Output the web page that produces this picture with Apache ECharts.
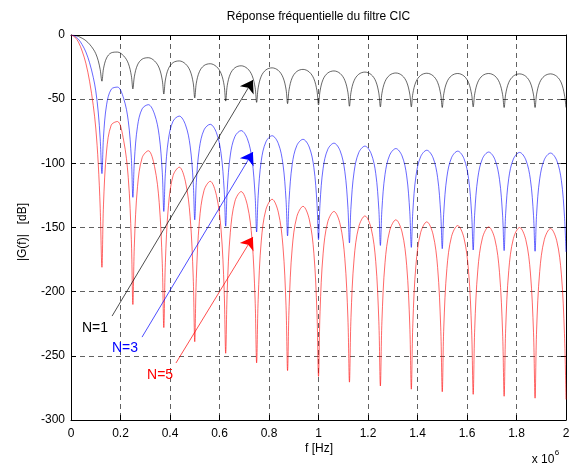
<!DOCTYPE html>
<html>
<head>
<meta charset="utf-8">
<script src="https://cdn.jsdelivr.net/npm/echarts@6/dist/echarts.min.js"></script>
<style>
html,body{margin:0;padding:0;background:#fff;}
#chart{width:575px;height:466px;}
</style>
</head>
<body>
<div id="chart"></div>
<script>
// ---- Data (frequency in units of 10^6 Hz, gain in dB) ----
const titleText = 'Réponse fréquentielle du filtre CIC';
const xTicks = [0, 0.2, 0.4, 0.6, 0.8, 1, 1.2, 1.4, 1.6, 1.8, 2];
const yTicks = [0, -50, -100, -150, -200, -250, -300];

// sample frequencies
const mainLobeFreq = [0, 0.015, 0.03, 0.045, 0.06, 0.075, 0.09, 0.1, 0.11, 0.118];
const nullFreq = [0.125, 0.25, 0.375, 0.5, 0.625, 0.75, 0.875, 1.0, 1.125, 1.25, 1.375, 1.5, 1.625, 1.75, 1.875];
const lobeOffsets = [0, 0.00625, 0.01875, 0.0375, 0.0625, 0.0875, 0.10625, 0.11875];
const endFreq = [2.0];

const gainN1 = [
  0, -0.3, -1.1, -2.5, -4.4, -7.2, -11, -14.5, -20, -27,
  -36, -26.3, -17.9, -13.9, -13.3, -16.2, -22.0, -31.7,
  -42, -32.1, -23.3, -18.8, -17.7, -20.2, -25.7, -35.2,
  -46, -35.1, -26.2, -21.5, -20.2, -22.5, -27.9, -37.3,
  -49, -37.6, -28.6, -23.8, -22.4, -24.6, -29.9, -39.3,
  -51.5, -39.4, -30.3, -25.5, -24.0, -26.1, -31.4, -40.8,
  -52.5, -41.2, -32.1, -27.2, -25.6, -27.6, -32.9, -42.2,
  -53.5, -42.4, -33.3, -28.4, -26.8, -28.8, -34.1, -43.4,
  -54.5, -43.6, -34.5, -29.6, -28.0, -30.0, -35.3, -44.6,
  -55.5, -44.7, -35.6, -30.6, -28.9, -30.8, -36.0, -45.3,
  -56, -45.4, -36.3, -31.3, -29.6, -31.5, -36.7, -46.0,
  -56, -45.6, -36.5, -31.5, -29.8, -31.7, -36.9, -46.2,
  -56.5, -45.8, -36.7, -31.7, -30.0, -31.9, -37.1, -46.4,
  -56, -45.8, -36.7, -31.7, -30.0, -31.9, -37.1, -46.4,
  -56.5, -46.1, -37.0, -32.0, -30.3, -32.2, -37.4, -46.7,
  -56.5, -46.1, -37.0, -32.0, -30.3, -32.2, -37.4, -46.7,
  -56.5
];
const gainN3 = [
  0, -0.9, -3.3, -7.5, -13.2, -21.6, -33, -43.5, -60, -81,
  -108, -79.6, -54.4, -42.3, -40.6, -49.3, -66.8, -95.7,
  -126.5, -97.4, -71.1, -57.5, -54.3, -61.7, -78.4, -106.9,
  -137.5, -107.9, -81.2, -67.1, -63.2, -70.0, -86.4, -114.6,
  -144, -115.1, -88.3, -73.9, -69.6, -76.1, -92.2, -120.4,
  -149, -120.6, -93.5, -79.0, -74.5, -80.8, -96.8, -124.8,
  -153.5, -125.3, -98.0, -83.3, -78.5, -84.5, -100.4, -128.3,
  -156.5, -128.1, -100.8, -86.1, -81.3, -87.3, -103.2, -131.1,
  -159.5, -131.1, -103.8, -89.1, -84.3, -90.3, -106.2, -134.1,
  -162, -134.0, -106.7, -91.7, -86.6, -92.3, -107.9, -135.8,
  -164, -135.9, -108.6, -93.6, -88.5, -94.2, -109.8, -137.7,
  -165.5, -137.2, -109.9, -94.9, -89.8, -95.5, -111.1, -139.0,
  -166.5, -137.9, -110.6, -95.6, -90.5, -96.2, -111.8, -139.7,
  -167.5, -138.6, -111.3, -96.3, -91.2, -96.9, -112.5, -140.4,
  -168, -138.9, -111.6, -96.6, -91.5, -97.2, -112.8, -140.7,
  -168.5, -139.4, -112.1, -97.1, -92.0, -97.7, -113.3, -141.2,
  -169
];
const gainN5 = [
  0, -1.5, -5.5, -12.5, -22, -36, -55, -72.5, -100, -135,
  -181, -132.4, -90.4, -70.2, -67.4, -81.9, -111.0, -159.3,
  -210, -162.1, -118.1, -95.6, -90.2, -102.5, -130.4, -177.9,
  -228, -177.5, -133.0, -109.5, -103, -114.4, -141.6, -188.7,
  -239, -189.9, -145.1, -121.1, -114, -124.9, -151.7, -198.6,
  -248, -198.8, -153.7, -129.4, -122, -132.6, -159.1, -205.8,
  -255.5, -206.0, -160.5, -136.0, -128, -138.0, -164.5, -211.0,
  -261.5, -211.5, -166.0, -141.5, -133.5, -143.5, -170.0, -216.5,
  -266, -215.5, -170.0, -145.5, -137.5, -147.5, -174.0, -220.5,
  -270.5, -220.0, -174.5, -149.5, -141, -150.5, -176.5, -223.0,
  -273.5, -223.0, -177.5, -152.5, -144, -153.5, -179.5, -226.0,
  -276, -224.6, -179.1, -154.1, -145.6, -155.1, -181.1, -227.6,
  -278, -227.5, -182.0, -157.0, -148.5, -158.0, -184.0, -230.5,
  -280, -228.5, -183.0, -158.0, -149.5, -159.0, -185.0, -231.5,
  -281.5, -229.0, -183.5, -158.5, -150, -159.5, -185.5, -232.0,
  -283, -229.8, -184.3, -159.3, -150.8, -160.3, -186.3, -232.8,
  -284
];

// annotations (data units)
const seriesNames = ['N=1', 'N=3', 'N=5'];
const seriesColors = ['#000000', '#0000ff', '#ff0000'];
const labelPos = [[0.097, -228.5], [0.218, -244], [0.36, -265]];
const arrowStart = [[0.166, -219], [0.287, -235.4], [0.424, -255.6]];
const arrowTip = [[0.735, -35.1], [0.735, -91.2], [0.735, -157.4]];

// ---- Build ----
const freq = mainLobeFreq
  .concat(nullFreq.flatMap(n => lobeOffsets.map(o => +(n + o).toFixed(5))))
  .concat(endFreq);
const gains = [gainN1, gainN3, gainN5];

const FONT = '"Liberation Sans", Arial, Helvetica, sans-serif';
const chart = echarts.init(document.getElementById('chart'), null, {renderer: 'canvas'});

const fmtX = v => String(Math.round(v * 10) / 10);
const gridLine = {show: true, lineStyle: {color: '#3a3a3a', type: [5, 4], width: 0.8}};
const axLine = {show: true, onZero: false, lineStyle: {color: '#000', width: 1}};
const tick = {show: true, inside: true, length: 5, lineStyle: {color: '#000', width: 1}};

const series = gains.map((g, i) => ({
  name: seriesNames[i],
  type: 'line',
  data: freq.map((f, j) => [f, g[j]]),
  showSymbol: false,
  symbol: 'none',
  smooth: 0.35,
  lineStyle: {color: seriesColors[i], width: 0.6},
  itemStyle: {color: seriesColors[i]},
  clip: true,
  silent: true,
  z: 2 + i
}));

// arrows (line + head)
gains.forEach((g, i) => {
  series.push({
    type: 'lines',
    coordinateSystem: 'cartesian2d',
    silent: true,
    z: 10,
    symbol: ['none', 'arrow'],
    symbolSize: 12,
    lineStyle: {color: seriesColors[i], width: 0.7, opacity: 1},
    data: [{coords: [arrowStart[i], arrowTip[i]]}]
  });
});

chart.setOption({
  animation: false,
  backgroundColor: '#fff',
  grid: {left: 71, top: 35, width: 495, height: 385, containLabel: false},
  xAxis: [{
    type: 'value', min: 0, max: 2, interval: 0.2, position: 'bottom',
    axisLine: axLine, axisTick: tick,
    axisLabel: {color: '#000', fontSize: 12, fontFamily: FONT, margin: 8, formatter: fmtX},
    splitLine: gridLine
  }, {
    type: 'value', min: 0, max: 2, interval: 0.2, position: 'top',
    axisLine: axLine, axisTick: tick, axisLabel: {show: false}, splitLine: {show: false}
  }],
  yAxis: [{
    type: 'value', min: -300, max: 0, interval: 50, position: 'left',
    axisLine: axLine, axisTick: tick,
    axisLabel: {color: '#000', fontSize: 12, fontFamily: FONT, margin: 6},
    splitLine: gridLine
  }, {
    type: 'value', min: -300, max: 0, interval: 50, position: 'right',
    axisLine: axLine, axisTick: tick, axisLabel: {show: false}, splitLine: {show: false}
  }],
  series: series
});

const txt = (x, y, text, opts) => Object.assign({
  type: 'text', x: x, y: y, silent: true, z: 100,
  style: Object.assign({text: text, fill: '#000', font: '12px ' + FONT, textAlign: 'center', textVerticalAlign: 'middle'}, opts || {})
});
const graphics = [
  txt(318.5, 17, titleText, {font: '12px ' + FONT}),
  txt(319, 449, 'f [Hz]', {font: '12px ' + FONT}),
  {type: 'text', x: 23, y: 232, rotation: Math.PI / 2, silent: true, z: 100,
   style: {text: '|G(f)|   [dB]', fill: '#000', font: '12px ' + FONT, textAlign: 'center', textVerticalAlign: 'middle'}},
  txt(543, 460, 'x 10', {font: '12px ' + FONT}),
  txt(557, 453, '6', {font: '8px ' + FONT})
];
labelPos.forEach((p, i) => {
  const px = chart.convertToPixel({gridIndex: 0}, p);
  graphics.push(txt(px[0], px[1], seriesNames[i], {font: '14px ' + FONT, fill: seriesColors[i]}));
});
chart.setOption({graphic: graphics});
</script>
</body>
</html>
